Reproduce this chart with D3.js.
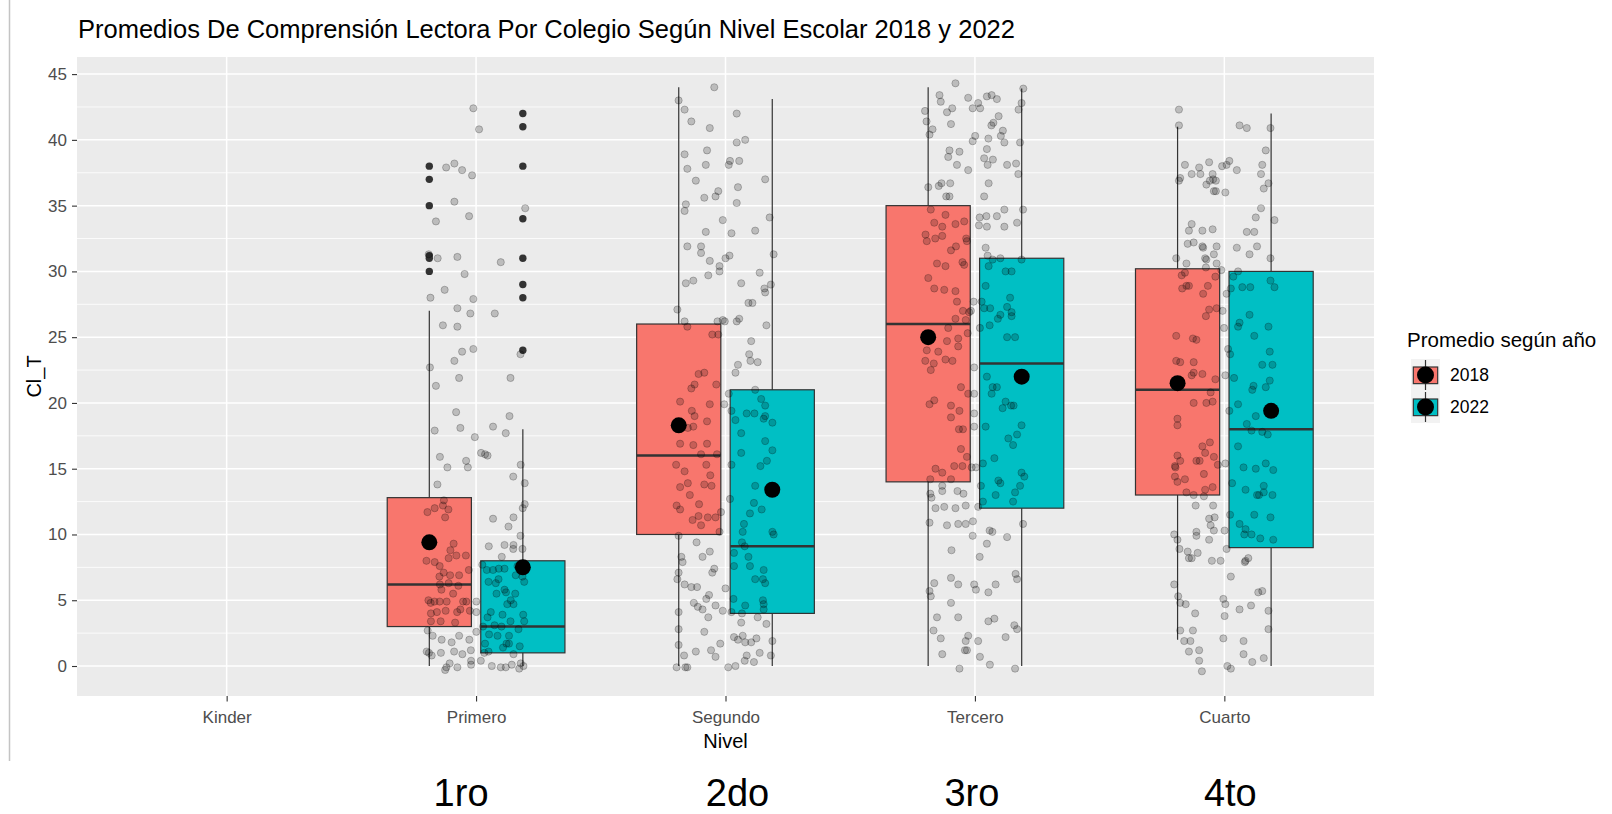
<!DOCTYPE html>
<html>
<head>
<meta charset="utf-8">
<script src="https://cdn.jsdelivr.net/npm/d3@7"></script>
<style>
  html, body { margin: 0; padding: 0; background: #fff; }
  svg { display: block; font-family: "Liberation Sans", Arial, sans-serif; }
</style>
</head>
<body>
<div id="chart"></div>
<script>
// boxplots of reading scores (Cl_T) by school level, 2018 vs 2022
const niveles = ["Kinder", "Primero", "Segundo", "Tercero", "Cuarto"];
const boxNiveles = ["Primero", "Segundo", "Tercero", "Cuarto"];
const years = ["2018", "2022"];
const yTicks = [0, 5, 10, 15, 20, 25, 30, 35, 40, 45];
const yMinor = [2.5, 7.5, 12.5, 17.5, 22.5, 27.5, 32.5, 37.5, 42.5];
const bottomLabels = ["1ro", "2do", "3ro", "4to"];

// box stats, one value per boxNiveles entry
const lower2018 = [0, 0, 0, 2];
const q1_2018   = [3, 10, 14, 13];
const med2018   = [6.2, 16, 26, 21];
const q3_2018   = [12.8, 26, 35, 30.2];
const upper2018 = [27, 44, 44, 41];
const mean2018  = [9.4, 18.3, 25, 21.5];

const lower2022 = [0, 0, 0, 0];
const q1_2022   = [1, 4, 12, 9];
const med2022   = [3, 9.1, 23, 18];
const q3_2022   = [8, 21, 31, 30];
const upper2022 = [18, 43.1, 43.9, 42];
const mean2022  = [7.5, 13.4, 22, 19.4];

// outliers (only Primero has them)
const outliers2018Primero = [38, 37, 35, 31.2, 31, 30];
const outliers2022Primero = [42, 41, 38, 34, 31, 29, 28, 24];

// jittered raw points: [offset from level centre (level units), Cl_T]
const jitterPrimero = [
  [-0.011,42.4],[0.012,40.8],[-0.12,37.9],[-0.087,38.2],[-0.056,37.7],[-0.016,37.3],[-0.087,35.3],[-0.028,34.2],
  [-0.161,33.8],[0.197,34.8],[-0.154,31.0],[-0.075,31.1],[-0.19,31.3],[0.099,30.7],[-0.046,29.8],[-0.126,28.6],
  [-0.183,28.0],[-0.011,27.9],[-0.075,27.2],[-0.023,26.8],[0.075,26.8],[-0.133,25.9],[-0.075,25.8],[-0.011,24.1],
  [-0.056,23.9],[-0.087,23.2],[0.178,23.7],[-0.185,22.7],[-0.068,21.9],[0.138,21.9],[-0.161,21.3],[-0.08,19.3],
  [0.134,19.0],[-0.166,17.9],[-0.063,18.1],[0.068,18.2],[0.119,17.7],[-0.005,17.4],[0.02,16.2],[0.036,16.1],
  [0.046,16.0],[-0.145,15.9],[-0.04,15.6],[-0.115,15.1],[-0.033,15.1],[0.179,15.3],[0.149,14.4],[0.195,13.9],
  [-0.155,13.8],[0.195,12.3],[0.187,12.0],[-0.129,12.6],[-0.195,11.7],[-0.166,12.0],[-0.133,12.2],[-0.111,11.9],
  [-0.124,11.3],[0.068,11.2],[0.15,11.3],[0.13,10.6],[0.178,9.9],[-0.09,9.3],[-0.103,8.8],[-0.11,8.2],
  [-0.079,8.4],[-0.041,8.4],[0.051,9.1],[0.114,9.2],[0.15,9.2],[0.149,8.9],[0.186,8.9],[0.103,8.3],
  [-0.199,8.0],[-0.166,7.9],[-0.146,7.6],[-0.13,7.1],[-0.104,6.9],[-0.068,6.9],[-0.029,7.3],[-0.147,6.8],
  [-0.145,6.2],[-0.139,5.8],[-0.11,6.3],[-0.071,6.1],[-0.092,5.5],[-0.191,5.0],[-0.182,4.8],[-0.167,4.9],
  [-0.146,4.9],[-0.118,4.9],[-0.052,4.9],[-0.039,4.9],[-0.157,4.1],[-0.122,4.2],[-0.076,4.1],[-0.063,4.3],
  [-0.181,4.0],[-0.025,4.2],[-0.084,3.3],[-0.181,3.4],[-0.142,3.4],[0.001,4.9],[0.001,4.1],
  [0.025,7.7],[0.043,7.3],[0.068,7.3],[0.091,7.4],[0.114,7.4],[0.166,7.6],[0.186,6.8],[0.193,6.4],
  [0.079,6.3],[0.05,6.4],[0.159,6.9],[0.09,6.6],[0.114,5.8],[0.12,5.6],[0.082,5.5],[0.157,5.5],
  [0.139,5.0],[0.15,4.7],[0.125,4.7],[0.059,4.1],[0.046,3.7],[0.106,3.9],[0.138,3.4],[0.189,3.9],
  [0.074,3.1],[0.102,3.0],[0.028,3.0],[0.17,2.8],[0.193,3.4],[0.052,2.4],[0.086,2.3],[0.132,2.3],
  [0.122,1.7],[0.132,1.7],[0.108,1.4],[0.036,1.7],[0.05,1.1],[0.15,0.9],[0.175,1.5],
  [-0.194,2.7],[-0.174,2.3],[-0.068,2.3],[-0.098,1.8],[-0.138,2.0],[-0.027,2.0],[0.001,2.6],[-0.198,1.1],
  [-0.189,1.0],[-0.141,1.0],[-0.178,0.8],[-0.088,1.1],[-0.055,0.9],[-0.021,1.2],[-0.02,0.4],[-0.02,0.1],
  [-0.106,0.2],[-0.119,-0.1],[-0.124,-0.3],[-0.075,-0.1],[0.033,1.0],[0.019,0.4],[0.063,0.0],[0.099,-0.1],
  [0.119,-0.1],[0.143,0.1],[0.179,0.2],[0.19,0.0],[0.173,-0.2]
];

const jitterSegundo = [
  [-0.045,44.0],[-0.188,43.0],[-0.164,42.3],[-0.137,41.4],[-0.063,40.9],[0.045,42.0],[0.079,40.0],[0.045,39.8],
  [-0.164,38.9],[-0.074,39.2],[-0.079,38.1],[-0.153,37.8],[0.013,38.1],[0.018,38.4],[0.055,38.4],[-0.119,36.9],
  [0.05,36.4],[0.159,37.0],[-0.085,35.6],[-0.04,35.7],[-0.029,36.1],[-0.159,35.1],[-0.164,34.6],[0.045,35.2],
  [-0.011,33.9],[0.177,34.1],[0.024,32.9],[0.119,33.1],[-0.079,33.0],[-0.153,31.9],[-0.098,31.9],[-0.098,31.4],
  [-0.063,30.8],[0,31.0],[0.016,31.2],[-0.024,30.4],[-0.024,30.0],[0.193,31.3],[-0.069,29.7],[0.137,29.9],
  [-0.159,29.1],[-0.129,29.3],[0.063,29.1],[0.182,29.0],[0.156,28.7],[0.159,28.4],[0.092,27.6],[0.108,27.6],
  [-0.193,27.1],[-0.032,26.2],[-0.011,26.3],[0.045,26.2],[0.055,26.4],[0.164,25.9],[-0.164,26.2],
  [-0.153,25.8],[-0.053,25.2],[-0.029,25.2],[-0.108,22.2],[-0.085,22.3],[-0.037,21.4],[-0.124,21.4],[-0.137,21.1],
  [-0.182,20.1],[-0.063,19.9],[-0.135,19.4],[-0.124,19.0],[-0.129,18.2],[-0.151,18.1],[-0.074,18.6],[-0.182,16.9],
  [-0.129,16.8],[-0.074,16.9],[-0.098,16.1],[-0.034,16.1],[-0.198,15.3],[-0.164,14.8],[-0.151,13.9],[-0.182,13.6],
  [-0.077,15.3],[-0.061,14.5],[-0.085,13.8],[-0.056,13.7],[-0.143,13.0],[-0.196,12.2],[-0.182,11.9],[-0.106,12.3],
  [-0.108,11.4],[-0.132,11.1],[-0.098,10.7],[-0.071,11.3],[-0.04,11.3],[-0.018,11.7],[-0.024,10.2],[-0.188,9.9],
  [-0.005,19.9],[0.024,19.4],[0.013,20.7],[-0.003,26.2],[0.04,22.3],[0.05,22.9],[0.103,24.7],[0.095,23.7],
  [0.1,23.2],[0.129,23.1],[0.119,21.0],
  [0.04,18.7],[0.085,19.2],[0.116,19.2],[0.143,20.3],[0.159,19.8],[0.153,18.8],[0.159,19.0],[0.188,18.5],
  [0.063,17.7],[0.159,17.1],[0.188,16.4],[0.063,16.2],[0.166,15.6],[0.14,15.2],[0.024,15.3],[0.119,13.7],
  [0.114,12.4],[0.098,11.6],[0.145,11.9],[0.018,12.7],[0.074,10.8],[0.069,10.2],[0.188,10.2],[0.193,10.0],
  [0.066,9.4],[0.077,9.1],[0.034,8.6],[0.092,8.3],[0.098,7.6],[0.034,7.6],[0.153,7.3],[0.119,6.6],
  [0.15,6.6],[0.159,6.3],[0.032,5.1],[0.079,4.6],[0.15,5.0],[0.153,4.7],[0.153,4.3],
  [-0.116,9.4],[-0.063,8.7],[-0.092,8.3],[-0.177,8.3],[-0.172,7.9],[-0.045,7.4],[-0.053,7.1],[-0.188,7.1],
  [-0.193,6.6],[-0.164,6.2],[-0.137,6.0],[-0.114,6.0],[0,5.9],[-0.066,5.4],[-0.077,5.1],[-0.04,4.6],
  [-0.127,4.8],[-0.111,4.5],[-0.092,4.3],[-0.011,4.2],[-0.188,4.1],[-0.069,3.7],[0.024,4.1],[0.066,4.0],
  [0.063,3.3],[0.129,3.7],[0.164,3.2],[-0.188,2.8],[-0.085,2.6],[0.034,2.2],[0.069,2.3],[0.05,2.0],
  [0.079,1.8],[0.103,1.8],[0.124,2.1],[-0.021,1.7],[-0.188,1.6],[0.188,1.9],[-0.058,1.2],[-0.119,1.1],
  [-0.166,0.8],[-0.04,0.7],[0.085,0.8],[0.137,1.0],[0.182,0.8],[0.114,0.3],[0.077,0.4],[-0.196,-0.1],
  [-0.161,-0.1],[-0.153,-0.1],[0.011,-0.1],[0.04,0.0]
];

const jitterTercero = [
  [-0.078,44.3],[-0.142,43.4],[-0.137,42.9],[-0.027,43.2],[0.013,42.8],[0.048,43.3],[0.067,43.4],[0.088,43.1],
  [0.021,42.4],[-0.009,42.4],[-0.091,42.4],[-0.112,42.1],[-0.2,42.2],[-0.194,41.4],[-0.096,41.2],[0.095,41.8],
  [0.074,41.3],[0.066,41.1],[-0.17,40.8],[-0.182,40.4],[0.112,40.7],[0.104,40.3],[0.118,39.8],[0.001,40.3],
  [-0.009,39.9],[0.054,40.1],[0.175,42.3],[0.187,42.8],[0.194,43.9],[0.181,39.8],[-0.102,39.2],[-0.062,39.1],
  [-0.107,38.7],[0.048,39.3],[0.037,38.6],[0.072,38.5],[0.051,38.1],[0.129,38.1],[0.165,38.2],[0.174,37.4],
  [-0.072,38.1],[-0.027,37.7],[-0.099,36.7],[-0.134,36.7],[-0.145,36.5],[-0.187,36.4],[-0.115,35.7],[-0.102,35.7],
  [0.055,36.7],[0.037,35.7],[-0.177,34.7],[-0.118,34.3],[0.193,34.7],[0.118,34.7],[0.088,34.2],[0.019,34.1],
  [0.046,34.2],[0.016,33.5],[0.048,33.4],[0.118,33.4],[0.169,33.7],
  [-0.163,33.7],[-0.131,33.4],[-0.078,33.6],[-0.043,33.8],[-0.198,32.8],[-0.159,32.5],[-0.193,32.3],[-0.131,32.7],
  [-0.076,31.9],[-0.096,31.6],[-0.035,32.5],[-0.032,32.3],[-0.152,30.6],[-0.118,30.4],[-0.05,30.7],[-0.043,30.5],
  [-0.187,29.5],[-0.163,28.7],[-0.123,28.6],[-0.078,28.5],[-0.072,27.7],[-0.048,27.0],[-0.078,26.4],[-0.037,26.3],
  [-0.107,25.7],[-0.029,25.3],[-0.023,26.9],[-0.112,24.7],[-0.067,24.9],[-0.067,24.3],[-0.193,24.0],[-0.147,23.9],
  [-0.118,23.3],[-0.09,23.2],[-0.199,23.2],[-0.165,23.0],[-0.177,22.5],[-0.056,21.2],[-0.027,20.7],[-0.163,20.2],
  [-0.182,19.9],[-0.096,19.8],[-0.062,19.4],[-0.096,18.9],[-0.064,18.0],[-0.048,18.0],[-0.056,16.5],[-0.032,15.9],
  [-0.083,15.2],[-0.05,15.2],[-0.158,15.0],[-0.131,14.7],[-0.096,14.2],[-0.179,14.2],
  [-0.005,27.7],[0.027,27.7],[-0.016,27.0],[0.02,25.7],[-0.003,22.7],[-0.003,20.7],[-0.003,19.2],[-0.003,18.2],
  [-0.013,15.1],[0.004,15.1],
  [0.043,31.8],[0.051,31.2],[0.071,30.9],[0.102,31.0],[0.055,30.4],[0.123,30.0],[0.147,30.0],[0.187,30.9],
  [0.043,28.9],[0.141,28.0],[0.037,27.2],[0.061,27.2],[0.102,26.7],[0.092,26.4],[0.129,27.3],[0.147,26.9],
  [0.147,26.6],[0.059,25.9],[0.129,25.0],[0.161,25.0],[0.048,22.0],[0.071,21.2],[0.088,21.2],[0.067,20.7],
  [0.123,20.1],[0.111,19.6],[0.145,19.8],[0.155,19.8],[0.043,18.2],[0.187,18.3],[0.134,17.3],[0.169,17.6],
  [0.153,16.8],[0.078,15.8],[0.032,15.4],[0.187,14.7],[0.198,14.4],[0.094,14.1],[0.102,13.9],[0.024,13.7],
  [0.181,13.7],[0.083,13.0],[0.161,13.2],[0.032,12.5],[0.153,12.5],
  [-0.179,13.1],[-0.131,13.7],[-0.131,13.3],[-0.07,13.3],[-0.046,13.1],[-0.174,12.8],[-0.158,12.0],[-0.123,12.1],
  [-0.078,12.0],[-0.037,12.2],[0.013,12.1],[-0.182,10.9],[-0.112,10.7],[-0.067,10.8],[-0.037,10.8],[-0.008,11.0],
  [0.193,10.8],[-0.009,9.9],[0.059,10.3],[0.07,10.2],[0.129,9.8],[0.048,9.3],[-0.094,8.8],[0.019,8.3],
  [0.163,7.0],[0.169,6.6],[-0.163,6.3],[-0.096,6.7],[-0.067,6.2],[-0.003,6.2],[0.004,5.8],[0.083,6.2],
  [0.054,5.6],[-0.182,5.7],[-0.177,5.3],[-0.096,4.8],[-0.152,3.7],[-0.067,3.7],[0.054,3.4],[0.078,3.6],
  [-0.166,2.7],[0.158,3.1],[0.169,2.8],[-0.137,2.1],[-0.027,2.3],[-0.037,1.9],[0.013,1.9],[0.123,2.2],
  [-0.032,1.2],[-0.04,1.2],[-0.131,0.9],[0.02,0.7],[-0.062,-0.2],[0.06,0.1],[0.161,-0.2]
];

const jitterCuarto = [
  [-0.182,42.3],[-0.182,41.1],[0.061,41.1],[0.09,40.9],[0.185,40.9],[0.166,39.2],[-0.158,38.1],[-0.131,37.4],
  [-0.101,37.9],[-0.096,37.4],[-0.061,38.3],[-0.047,37.4],[-0.009,38.0],[0.009,38.1],[0.02,38.4],[0.05,37.7],
  [0.152,38.1],[0.147,37.4],[-0.182,36.9],[-0.177,37.1],[-0.072,36.6],[-0.058,36.9],[-0.045,37.0],[-0.034,36.9],
  [-0.042,36.1],[-0.034,36.1],[0.004,36.0],[0.177,36.7],[0.158,36.3],[0.147,34.8],[0.126,34.1],[0.201,33.9],
  [-0.131,33.6],[-0.142,33.1],[-0.088,33.1],[-0.047,33.2],[0.09,33.0],[0.12,33.0],[-0.147,32.1],[-0.123,32.2],
  [-0.088,31.9],[-0.085,31.8],[-0.031,31.9],[0.05,31.8],[0.131,31.9],[0.101,31.3],[-0.042,31.3],[-0.077,31.0],
  [-0.072,30.9],[-0.193,31.0],[-0.152,30.6],[-0.031,30.6],[-0.074,30.3],[0.185,31.0],[-0.012,30.1],
  [-0.171,29.7],[-0.158,29.9],[-0.169,28.7],[-0.152,28.9],[-0.142,28.9],[-0.066,28.9],[-0.036,29.6],[-0.085,28.3],
  [-0.061,27.1],[-0.031,27.2],[-0.074,26.6],[-0.193,25.1],[-0.126,24.9],[-0.112,24.8],[-0.193,23.2],[-0.177,23.1],
  [-0.123,23.1],[-0.131,22.1],[-0.123,22.3],[-0.088,22.2],[-0.036,21.8],[-0.055,20.8],[-0.123,20.0],[-0.072,20.0],
  [-0.047,20.1],[-0.188,18.8],[-0.188,18.3],[-0.088,16.7],[-0.058,17.0],[-0.077,16.2],[-0.042,15.9],[-0.188,16.0],
  [-0.177,15.6],[-0.112,15.6],[-0.099,15.6],[-0.198,15.2],[-0.196,15.1],[-0.026,15.3],[-0.082,14.6],[-0.198,14.4],
  [-0.188,14.0],[-0.158,14.2],[-0.077,13.4],[-0.047,13.6],[-0.152,13.2],[-0.123,13.0],[-0.082,12.9],
  [0.009,28.3],[-0.007,27.0],[-0.001,25.7],[0.015,24.1],[0.023,23.7],[0.004,22.1],[0.02,19.4],[0.004,15.4],
  [0.036,29.6],[0.026,28.7],[0.072,28.8],[0.104,28.8],[0.055,30.0],[0.185,29.3],[0.201,28.8],[0.101,26.7],
  [0.061,26.1],[0.055,25.8],[0.177,25.8],[0.12,25.1],[0.182,23.9],[0.152,22.9],[0.193,22.9],[0.039,21.9],
  [0.117,21.3],[0.112,21.0],[0.166,21.2],[0.182,21.7],[0.055,19.9],[0.126,19.0],[0.09,18.4],[0.109,17.9],
  [0.152,17.8],[0.174,17.6],[0.055,16.7],[0.166,15.4],[0.077,15.1],[0.126,15.0],[0.196,14.9],[0.031,13.9],
  [0.085,13.4],[0.131,13.0],[0.139,13.0],[0.158,13.7],[0.158,13.2],[0.193,13.0],[0.023,11.5],[0.12,11.5],
  [0.185,11.3],[0.061,10.8],[0.085,10.4],[0.08,10.0],[0.109,10.0],[0.144,9.7],[0.196,9.6],
  [-0.115,12.2],[-0.045,12.2],[-0.061,11.2],[-0.039,11.3],[-0.055,10.7],[-0.042,10.3],[0.001,10.3],[-0.201,10.0],
  [-0.188,9.6],[-0.112,10.2],[-0.112,9.9],[-0.061,9.6],[-0.18,8.9],[-0.147,8.7],[-0.107,8.6],[-0.142,8.2],
  [-0.131,8.2],[-0.05,8.0],[-0.015,8.0],[0.009,8.9],[0.096,8.2],[0.085,8.0],[0.082,7.9],[0.026,6.8],
  [-0.201,6.2],[0.136,5.6],[0.152,5.7],[-0.185,5.3],[-0.177,4.8],[-0.155,4.7],[-0.004,5.1],[0.004,4.7],
  [0.001,3.8],[0.061,4.3],[0.107,4.6],[0.177,4.2],[-0.117,4.0],[0.177,2.8],[-0.177,2.7],[-0.126,2.7],
  [-0.004,2.1],[-0.161,1.9],[-0.136,1.9],[0.077,1.9],[-0.142,1.1],[-0.101,1.2],[0.077,0.9],[0.158,0.6],
  [0.112,0.3],[-0.101,0.4],[-0.09,-0.4],[0.012,0.0],[0.026,-0.2]
];

const jitterByNivel = { Primero: jitterPrimero, Segundo: jitterSegundo, Tercero: jitterTercero, Cuarto: jitterCuarto };
const fills = { "2018": "#F8766D", "2022": "#00BFC4" };

// layout
const W = 1612, H = 814;
const panel = { left: 77, right: 1374, top: 57, bottom: 696 };

const svg = d3.select("#chart").append("svg").attr("width", W).attr("height", H);

const x = d3.scalePoint().domain(niveles).range([panel.left, panel.right]).padding(0.6);
const y = d3.scaleLinear().domain([-2.28, 46.3]).range([panel.bottom, panel.top]);
const step = x.step();
const dodge = { "2018": -0.1875, "2022": 0.1875 };
const boxW = 0.3375 * step;

// screenshot edge on the left
svg.append("line")
  .attr("x1", 9.5).attr("x2", 9.5).attr("y1", 0).attr("y2", 761)
  .attr("stroke", "#c4c4c4").attr("stroke-width", 1.5);

// panel + grid
svg.append("rect")
  .attr("x", panel.left).attr("y", panel.top)
  .attr("width", panel.right - panel.left).attr("height", panel.bottom - panel.top)
  .attr("fill", "#EBEBEB");

const grid = svg.append("g").attr("stroke", "#fff");
grid.selectAll(".minor").data(yMinor).join("line")
  .attr("x1", panel.left).attr("x2", panel.right)
  .attr("y1", d => y(d)).attr("y2", d => y(d))
  .attr("stroke-width", 0.8);
grid.selectAll(".major").data(yTicks).join("line")
  .attr("x1", panel.left).attr("x2", panel.right)
  .attr("y1", d => y(d)).attr("y2", d => y(d))
  .attr("stroke-width", 1.5);
grid.selectAll(".vmajor").data(niveles).join("line")
  .attr("x1", d => x(d)).attr("x2", d => x(d))
  .attr("y1", panel.top).attr("y2", panel.bottom)
  .attr("stroke-width", 1.5);

// boxplots
const boxes = [];
boxNiveles.forEach((n, i) => {
  boxes.push({ nivel: n, year: "2018", lo: lower2018[i], q1: q1_2018[i], med: med2018[i], q3: q3_2018[i], hi: upper2018[i], mean: mean2018[i] });
  boxes.push({ nivel: n, year: "2022", lo: lower2022[i], q1: q1_2022[i], med: med2022[i], q3: q3_2022[i], hi: upper2022[i], mean: mean2022[i] });
});
const cx = d => x(d.nivel) + dodge[d.year] * step;

const boxG = svg.append("g");
boxG.selectAll(".whisker").data(boxes).join("line")
  .attr("x1", cx).attr("x2", cx)
  .attr("y1", d => y(d.lo)).attr("y2", d => y(d.hi))
  .attr("stroke", "#333").attr("stroke-width", 1.2);
boxG.selectAll(".box").data(boxes).join("rect")
  .attr("x", d => cx(d) - boxW / 2).attr("width", boxW)
  .attr("y", d => y(d.q3)).attr("height", d => y(d.q1) - y(d.q3))
  .attr("fill", d => fills[d.year])
  .attr("stroke", "#333").attr("stroke-width", 1.2);
boxG.selectAll(".median").data(boxes).join("line")
  .attr("x1", d => cx(d) - boxW / 2).attr("x2", d => cx(d) + boxW / 2)
  .attr("y1", d => y(d.med)).attr("y2", d => y(d.med))
  .attr("stroke", "#333").attr("stroke-width", 2.4);

const outliers = outliers2018Primero.map(v => ({ nivel: "Primero", year: "2018", v }))
  .concat(outliers2022Primero.map(v => ({ nivel: "Primero", year: "2022", v })));
boxG.selectAll(".outlier").data(outliers).join("circle")
  .attr("cx", cx).attr("cy", d => y(d.v)).attr("r", 3.7)
  .attr("fill", "#333");

// jittered raw points
const pts = [];
boxNiveles.forEach(n => jitterByNivel[n].forEach(([dx, v]) => pts.push({ nivel: n, dx, v })));
svg.append("g").selectAll("circle").data(pts).join("circle")
  .attr("cx", d => x(d.nivel) + d.dx * step)
  .attr("cy", d => y(d.v))
  .attr("r", 3.6)
  .attr("fill", "rgba(0,0,0,0.2)")
  .attr("stroke", "rgba(0,0,0,0.25)")
  .attr("stroke-width", 0.9);

// means
svg.append("g").selectAll("circle").data(boxes).join("circle")
  .attr("cx", cx).attr("cy", d => y(d.mean)).attr("r", 8)
  .attr("fill", "#000");

// axes
const yAxis = d3.axisLeft(y).tickValues(yTicks).tickSize(5).tickPadding(5);
const yAxisG = svg.append("g").attr("transform", `translate(${panel.left},0)`).call(yAxis);
const xAxis = d3.axisBottom(x).tickSize(5.5).tickPadding(9);
const xAxisG = svg.append("g").attr("transform", `translate(0,${panel.bottom})`).call(xAxis);
[yAxisG, xAxisG].forEach(g => {
  g.select(".domain").remove();
  g.selectAll(".tick line").attr("stroke", "#333").attr("stroke-width", 1.1);
  g.selectAll(".tick text").attr("fill", "#4D4D4D")
    .style("font-family", "'Liberation Sans', Arial, sans-serif").style("font-size", "17px");
});

// titles
svg.append("text").attr("x", 78).attr("y", 38)
  .style("font-size", "25.5px").attr("fill", "#000")
  .text("Promedios De Comprensión Lectora Por Colegio Según Nivel Escolar 2018 y 2022");
svg.append("text").attr("x", (panel.left + panel.right) / 2).attr("y", 748)
  .attr("text-anchor", "middle").style("font-size", "20px").attr("fill", "#000")
  .text("Nivel");
svg.append("text")
  .attr("transform", `translate(41,${(panel.top + panel.bottom) / 2}) rotate(-90)`)
  .attr("text-anchor", "middle").style("font-size", "20px").attr("fill", "#000")
  .text("Cl_T");

// legend
const leg = svg.append("g").attr("transform", "translate(1407,0)");
leg.append("text").attr("x", 0).attr("y", 347)
  .style("font-size", "20.5px").attr("fill", "#000").text("Promedio según año");
const keyW = 29, keyH = 32;
years.forEach((yr, i) => {
  const k = leg.append("g").attr("transform", `translate(4,${359 + i * keyH})`);
  k.append("rect").attr("width", keyW).attr("height", keyH).attr("fill", "#F2F2F2");
  k.append("line").attr("x1", keyW / 2).attr("x2", keyW / 2).attr("y1", 1).attr("y2", keyH - 1)
    .attr("stroke", "#333").attr("stroke-width", 1.2);
  k.append("rect").attr("x", keyW * 0.08).attr("y", keyH * 0.25)
    .attr("width", keyW * 0.84).attr("height", keyH * 0.52)
    .attr("fill", fills[yr]).attr("stroke", "#333").attr("stroke-width", 1.2);
  k.append("circle").attr("cx", keyW / 2).attr("cy", keyH / 2).attr("r", 8.5).attr("fill", "#000");
  leg.append("text").attr("x", 43).attr("y", 359 + i * keyH + keyH / 2)
    .attr("dominant-baseline", "central").style("font-size", "17.5px").attr("fill", "#000")
    .text(yr);
});

// big annotations under the plot
const labelNudge = [-15, 12, -3, 6];
svg.append("g").selectAll("text").data(bottomLabels).join("text")
  .attr("x", (d, i) => x(boxNiveles[i]) + labelNudge[i])
  .attr("y", 806)
  .attr("text-anchor", "middle")
  .style("font-size", "38px").attr("fill", "#000")
  .text(d => d);
</script>
</body>
</html>
